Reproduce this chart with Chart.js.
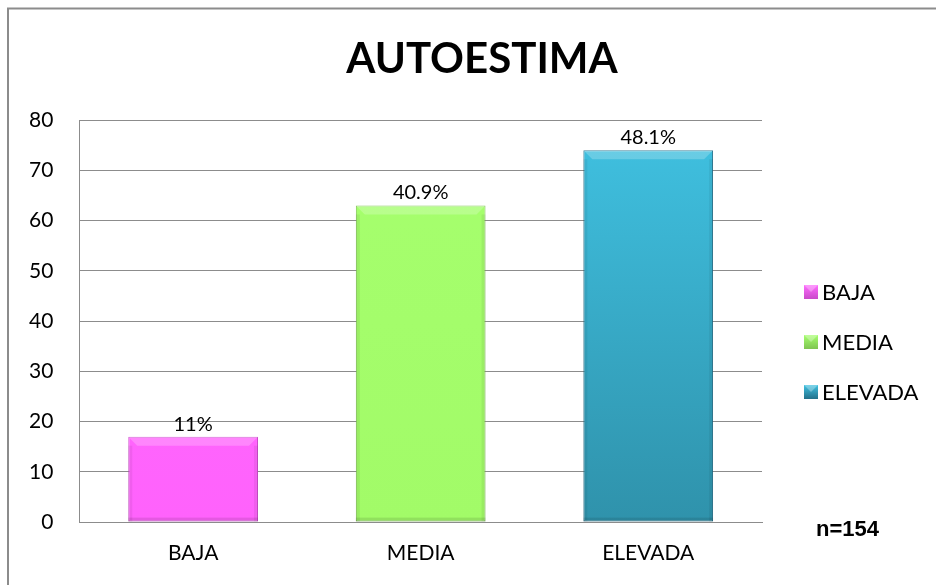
<!DOCTYPE html>
<html>
<head>
<meta charset="utf-8">
<script src="https://cdn.jsdelivr.net/npm/chart.js@4"></script>
<style>
  html, body { margin: 0; padding: 0; background: #fff; }
  #wrap { position: relative; width: 936px; height: 585px; }
</style>
</head>
<body>
<div id="wrap"><canvas id="autoestima-chart" width="936" height="585"></canvas></div>
<script>
// Data
const categories = ['BAJA', 'MEDIA', 'ELEVADA'];
const counts = [17, 63, 74];
const percentLabels = ['11%', '40.9%', '48.1%'];
const yTicks = [0, 10, 20, 30, 40, 50, 60, 70, 80];
const chartTitle = 'AUTOESTIMA';
const sampleNote = 'n=154';

const topColors = ['#ff6cff', '#a6ff6e', '#40c2e2'];
const bottomColors = ['#ff62fc', '#a2fb68', '#2f92ab'];
const edgeColors = ['#c94ac9', '#7fc452', '#23708a'];

const FONT = 'Lato, "Open Sans", sans-serif';

// frame, title, value labels, legend and n= note
const extras = {
  id: 'extras',
  beforeDraw: (c) => {
    const { ctx } = c;
    ctx.save();
    ctx.strokeStyle = '#8c8c8c';
    ctx.lineWidth = 2;
    ctx.beginPath();
    ctx.moveTo(8, 600);
    ctx.lineTo(8, 8.5);
    ctx.lineTo(950, 8.5);
    ctx.stroke();

    ctx.fillStyle = '#000';
    ctx.font = `bold 42px ${FONT}`;
    ctx.textAlign = 'center';
    ctx.textBaseline = 'alphabetic';
    ctx.fillText(chartTitle, 482, 73);
    ctx.restore();
  },
  afterDatasetsDraw: (c) => {
    const { ctx } = c;
    const meta = c.getDatasetMeta(0);
    ctx.save();
    meta.data.forEach((bar, i) => {
      const left = bar.x - bar.width / 2;
      const right = bar.x + bar.width / 2;
      const top = bar.y;
      const bottom = bar.base;
      // bevel: light top, darker sides/bottom
      ctx.fillStyle = 'rgba(255,255,255,0.22)';
      ctx.beginPath();
      ctx.moveTo(left, top);
      ctx.lineTo(right, top);
      ctx.lineTo(right - 9, top + 9);
      ctx.lineTo(left + 9, top + 9);
      ctx.closePath();
      ctx.fill();
      ctx.fillStyle = 'rgba(0,0,0,0.06)';
      ctx.fillRect(left, top + 9, 4, bottom - top - 9);
      ctx.fillRect(right - 4, top + 9, 4, bottom - top - 9);
      ctx.fillStyle = 'rgba(0,0,0,0.10)';
      ctx.fillRect(left, bottom - 4, right - left, 4);

      ctx.fillStyle = '#000';
      ctx.font = `20px ${FONT}`;
      ctx.textAlign = 'center';
      ctx.textBaseline = 'alphabetic';
      ctx.fillText(percentLabels[i], bar.x, top - 6);
    });

    // legend
    categories.forEach((name, i) => {
      const y = 292 + i * 50;
      const x = 804;
      const g = ctx.createLinearGradient(0, y - 7, 0, y + 7);
      g.addColorStop(0, topColors[i]);
      g.addColorStop(1, edgeColors[i]);
      ctx.fillStyle = g;
      ctx.fillRect(x, y - 7, 14, 14);
      ctx.fillStyle = 'rgba(255,255,255,0.3)';
      ctx.beginPath();
      ctx.moveTo(x, y - 7);
      ctx.lineTo(x + 14, y - 7);
      ctx.lineTo(x + 7, y);
      ctx.closePath();
      ctx.fill();
      ctx.fillStyle = '#000';
      ctx.font = `22px ${FONT}`;
      ctx.textAlign = 'left';
      ctx.textBaseline = 'middle';
      ctx.fillText(name, x + 18, y + 1);
    });

    ctx.font = 'bold 22px "Liberation Sans", Arial, sans-serif';
    ctx.textAlign = 'left';
    ctx.textBaseline = 'middle';
    ctx.fillText(sampleNote, 816, 530);
    ctx.restore();
  },
};

const ctx = document.getElementById('autoestima-chart');

// eslint-disable-next-line no-undef, no-unused-vars
const chart = new Chart(ctx, {
  type: 'bar',
  data: {
    labels: categories,
    datasets: [{
      data: counts,
      backgroundColor: (context) => {
        const area = context.chart.chartArea;
        if (!area) return topColors[context.dataIndex];
        const g = context.chart.ctx.createLinearGradient(0, area.top, 0, area.bottom);
        g.addColorStop(0, topColors[context.dataIndex]);
        g.addColorStop(1, bottomColors[context.dataIndex]);
        return g;
      },
      borderColor: edgeColors,
      borderWidth: 1,
      borderSkipped: false,
      categoryPercentage: 1,
      barPercentage: 0.57,
    }],
  },
  options: {
    responsive: false,
    animation: false,
    layout: {
      padding: { left: 3, right: 174, top: 120, bottom: 0 },
    },
    plugins: {
      legend: { display: false },
      tooltip: { enabled: false },
    },
    scales: {
      x: {
        grid: { display: false, drawTicks: false },
        border: { display: true, color: '#8c8c8c', width: 1 },
        ticks: {
          color: '#000',
          font: { family: FONT, size: 21, lineHeight: 0.9 },
          padding: 22,
        },
      },
      y: {
        min: 0,
        max: 80,
        afterBuildTicks: (axis) => {
          axis.ticks = yTicks.map((v) => ({ value: v }));
        },
        grid: { color: '#8c8c8c', drawTicks: false },
        border: { display: true, color: '#8c8c8c', width: 1 },
        ticks: {
          color: '#000',
          font: { family: FONT, size: 21 },
          padding: 26,
        },
      },
    },
  },
  plugins: [extras],
});
</script>
</body>
</html>
